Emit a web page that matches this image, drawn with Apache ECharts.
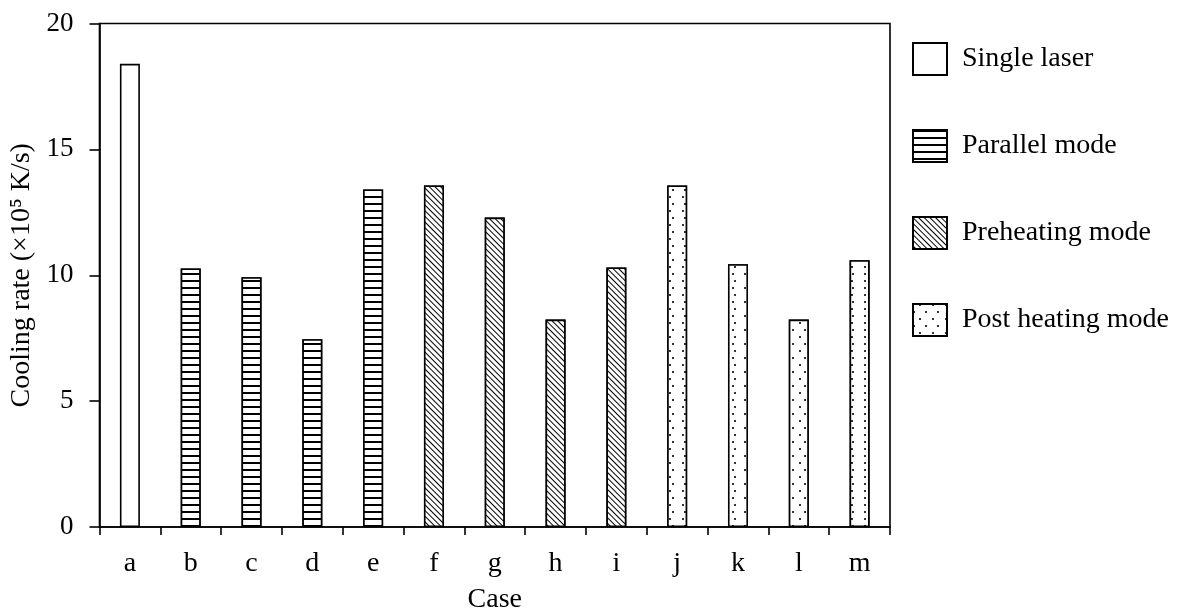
<!DOCTYPE html>
<html>
<head>
<meta charset="utf-8">
<script src="https://cdn.jsdelivr.net/npm/echarts@6/dist/echarts.min.js"></script>
<style>
html,body{margin:0;padding:0;background:#fff;}
#chart{width:1182px;height:612px;}
</style>
</head>
<body>
<div id="chart"></div>
<script>
const categories = ['a','b','c','d','e','f','g','h','i','j','k','l','m'];
const values = [18.40, 10.27, 9.92, 7.46, 13.41, 13.57, 12.29, 8.24, 10.31, 13.57, 10.44, 8.24, 10.60];
const groupNames = ['Single laser', 'Parallel mode', 'Preheating mode', 'Post heating mode'];
const groupOf = [0, 1, 1, 1, 1, 2, 2, 2, 2, 3, 3, 3, 3];
const yTicks = { min: 0, max: 20, interval: 5 };

const FONT = 'Liberation Serif';

const decals = [
  null,
  { symbol: 'rect', color: '#000', backgroundColor: '#fff', dashArrayX: [1, 0], dashArrayY: [1.1, 4.4], rotation: 0 },
  { symbol: 'rect', color: '#000', backgroundColor: '#fff', dashArrayX: [1, 0], dashArrayY: [1, 2.2], rotation: Math.PI / 4 },
  { symbol: 'rect', color: '#333', backgroundColor: '#fff', dashArrayX: [[1.3, 10], [0, 5.6, 1.3, 4.4]], dashArrayY: [1.3, 4.4], rotation: 0 }
];

const series = groupNames.map((name, g) => {
  const itemStyle = { color: '#fff', borderColor: '#000', borderWidth: 1.6 };
  if (decals[g]) itemStyle.decal = decals[g];
  return {
    name: name,
    type: 'bar',
    barWidth: 20,
    barGap: '-100%',
    itemStyle: itemStyle,
    data: values.map((v, i) => groupOf[i] === g ? v : '-'),
    animation: false
  };
});

const chart = echarts.init(document.getElementById('chart'), null, { renderer: 'canvas', width: 1182, height: 612 });
chart.setOption({
  backgroundColor: '#fff',
  animation: false,
  textStyle: { fontFamily: FONT },
  grid: { left: 99.5, right: 292, top: 23.5, bottom: 85, show: true, borderColor: '#000', borderWidth: 1.6, containLabel: false, outerBoundsMode: 'none' },
  legend: {
    orient: 'vertical',
    left: 912,
    top: 42,
    padding: 0,
    itemWidth: 34,
    itemHeight: 32,
    itemGap: 53,
    icon: 'rect',
    selectedMode: false,
    textStyle: { fontFamily: FONT, fontSize: 28, color: '#000', padding: [0, 0, 0, 10] },
    data: groupNames
  },
  xAxis: {
    type: 'category',
    data: categories,
    name: 'Case',
    nameLocation: 'middle',
    nameGap: 59,
    nameTextStyle: { fontFamily: FONT, fontSize: 28, color: '#000' },
    axisLine: { lineStyle: { color: '#000', width: 1.6 } },
    axisTick: { show: true, length: 8, lineStyle: { color: '#000', width: 1.6 } },
    axisLabel: { fontFamily: FONT, fontSize: 28, color: '#000', margin: 23 },
    splitLine: { show: false }
  },
  yAxis: {
    type: 'value',
    min: yTicks.min,
    max: yTicks.max,
    interval: yTicks.interval,
    name: 'Cooling rate (×10⁵ K/s)',
    nameLocation: 'middle',
    nameGap: 55,
    nameRotate: 90,
    nameTextStyle: { fontFamily: FONT, fontSize: 28, color: '#000' },
    axisLine: { show: true, lineStyle: { color: '#000', width: 1.6 } },
    axisTick: { show: true, length: 10, lineStyle: { color: '#000', width: 1.6 } },
    axisLabel: { fontFamily: FONT, fontSize: 27, color: '#000', margin: 26 },
    splitLine: { show: false }
  },
  series: series
});
</script>
</body>
</html>
